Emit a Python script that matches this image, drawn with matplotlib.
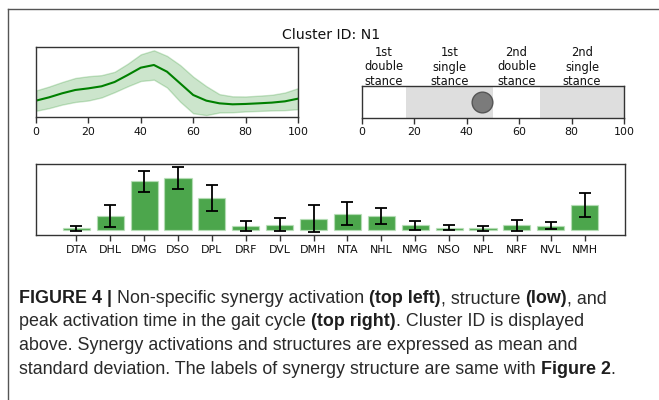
import matplotlib
matplotlib.use("Agg")
import matplotlib.pyplot as plt
import numpy as np
from matplotlib import font_manager
from matplotlib.lines import Line2D
from matplotlib.transforms import blended_transform_factory

# ---- synergy activation over the gait cycle (mean and SD) ----
gait_pct = [0, 5, 10, 15, 20, 25, 30, 35, 40, 45, 50,
            55, 60, 65, 70, 75, 80, 85, 90, 95, 100]
act_mean = [0.236, 0.283, 0.340, 0.387, 0.410, 0.439, 0.500, 0.599, 0.703, 0.741, 0.646,
            0.481, 0.316, 0.236, 0.198, 0.184, 0.189, 0.198, 0.208, 0.226, 0.264]
act_sd = [0.144, 0.153, 0.160, 0.170, 0.172, 0.158, 0.144, 0.160, 0.189, 0.208, 0.224,
          0.259, 0.259, 0.205, 0.130, 0.113, 0.106, 0.108, 0.111, 0.125, 0.149]

# ---- gait phases and peak activation time ----
phase_labels = ["1st\ndouble\nstance", "1st\nsingle\nstance",
                "2nd\ndouble\nstance", "2nd\nsingle\nstance"]
phase_bounds = [0, 17, 50, 68, 100]
peak_time = 46

# ---- synergy structure (muscle weights, mean and SD) ----
muscles = ["DTA", "DHL", "DMG", "DSO", "DPL", "DRF", "DVL", "DMH",
           "NTA", "NHL", "NMG", "NSO", "NPL", "NRF", "NVL", "NMH"]
weight_mean = [0.025, 0.21, 0.74, 0.79, 0.485, 0.06, 0.085, 0.175,
               0.25, 0.215, 0.07, 0.035, 0.025, 0.07, 0.065, 0.38]
weight_sd = [0.0325, 0.17, 0.1625, 0.1625, 0.1975, 0.0725, 0.10, 0.20,
             0.17, 0.125, 0.0625, 0.04, 0.04, 0.085, 0.055, 0.1875]

cluster_title = "Cluster ID: N1"

W, H = 659, 400
fig = plt.figure(figsize=(W / 100, H / 100), dpi=100)
fig.patch.set_facecolor("white")


def px_axes(left, top, right, bottom):
    return fig.add_axes([left / W, 1 - bottom / H, (right - left) / W, (bottom - top) / H])


tick_fs = 7.9
spine_col = "#333333"

# ---- top left: activation curve ----
ax1 = px_axes(36, 46.7, 298, 117.3)
ax1.fill_between(gait_pct, np.array(act_mean) - np.array(act_sd),
                 np.array(act_mean) + np.array(act_sd), color="green", alpha=0.2)
ax1.plot(gait_pct, act_mean, color="green", lw=1.5)
ax1.set_xlim(0, 100)
ax1.set_ylim(0, 1)
ax1.set_xticks([0, 20, 40, 60, 80, 100])
ax1.set_yticks([])

# ---- top right: gait phases with peak time ----
ax2 = px_axes(361.7, 86, 624, 117.7)
for i in range(len(phase_labels)):
    if i % 2 == 1:
        ax2.axvspan(phase_bounds[i], phase_bounds[i + 1], color="#dedede", lw=0)
ax2.scatter([peak_time], [0.5], s=222, facecolor="#7b7b7b", edgecolor="#555555",
            lw=1.0, zorder=3)
ax2.set_xlim(0, 100)
ax2.set_ylim(0, 1)
ax2.set_xticks([0, 20, 40, 60, 80, 100])
ax2.set_yticks([])
tr = blended_transform_factory(ax2.transData, fig.transFigure)
for i, lab in enumerate(phase_labels):
    xc = (phase_bounds[i] + phase_bounds[i + 1]) / 2
    ax2.text(xc, 1 - 67 / H, lab, transform=tr, ha="center", va="center",
             fontsize=8.3, linespacing=1.15, color="#111111")

# ---- bottom: synergy structure bars ----
ax3 = px_axes(36, 164, 625, 235)
xpos = np.arange(len(muscles))
ax3.bar(xpos, weight_mean, width=0.8, color="green", alpha=0.7,
        edgecolor="#b9e0b9", linewidth=0.9)
ax3.errorbar(xpos, weight_mean, yerr=weight_sd, fmt="none", ecolor="black",
             elinewidth=1.3, capsize=4.2, capthick=1.3)
ax3.set_xticks(xpos)
ax3.set_xticklabels(muscles)
ax3.set_yticks([])

for ax in (ax1, ax2, ax3):
    for s in ax.spines.values():
        s.set_color(spine_col)
        s.set_linewidth(1.0)
    ax.tick_params(axis="x", labelsize=tick_fs, length=4.5, width=1.0,
                   color=spine_col, labelcolor="#111111", pad=2.5)

fig.text(331 / W, 1 - 35 / H, cluster_title, ha="center", va="center",
         fontsize=10.1, color="#111111")

# ---- frame lines of the figure panel ----
fig.add_artist(Line2D([8.3 / W, 1], [1 - 9.3 / H, 1 - 9.3 / H],
                      transform=fig.transFigure, color="#555555", lw=1.0))
fig.add_artist(Line2D([8.3 / W, 8.3 / W], [0, 1 - 9.3 / H],
                      transform=fig.transFigure, color="#555555", lw=1.0))

# ---- caption with bold runs ----
caption_lines = [
    [("FIGURE 4 |", "bold"), (" Non-specific synergy activation ", "normal"),
     ("(top left)", "bold"), (", structure ", "normal"), ("(low)", "bold"),
     (", and", "normal")],
    [("peak activation time in the gait cycle ", "normal"), ("(top right)", "bold"),
     (". Cluster ID is displayed", "normal")],
    [("above. Synergy activations and structures are expressed as mean and", "normal")],
    [("standard deviation. The labels of synergy structure are same with ", "normal"),
     ("Figure 2", "bold"), (".", "normal")],
]

cap_family = ["Liberation Sans"]
try:
    font_manager.findfont("Liberation Sans Narrow", fallback_to_default=False)
    cap_family = ["Liberation Sans Narrow"]
except Exception:
    pass

renderer = fig.canvas.get_renderer()


def text_width(s, size, weight):
    t = fig.text(0, 0, s, fontsize=size, fontweight=weight, family=cap_family)
    w = t.get_window_extent(renderer).width
    t.remove()
    return w


def line_width(runs, size):
    sp = text_width("a a", size, "normal") - text_width("aa", size, "normal")
    x = 0.0
    for s, wgt in runs:
        lead = len(s) - len(s.lstrip(" "))
        trail = len(s) - len(s.rstrip(" "))
        core = s.strip(" ")
        x += lead * sp
        if core:
            x += text_width(core, size, wgt)
        x += trail * sp
    return x, sp


target = 607 - 19
base_size = 12.0
w0, _ = line_width(caption_lines[0], base_size)
cap_size = base_size * target / w0

baselines = [303, 326.5, 350, 373.5]
for runs, yb in zip(caption_lines, baselines):
    _, sp = line_width(runs, cap_size)
    x = 19.0
    for s, wgt in runs:
        lead = len(s) - len(s.lstrip(" "))
        trail = len(s) - len(s.rstrip(" "))
        core = s.strip(" ")
        x += lead * sp
        if core:
            fig.text(x / W, 1 - yb / H, core, fontsize=cap_size, fontweight=wgt,
                     family=cap_family, color="#1e1e1e" if wgt == "bold" else "#2a2a2a",
                     ha="left", va="baseline")
            x += text_width(core, cap_size, wgt)
        x += trail * sp

fig.savefig("out.png", dpi=100)
